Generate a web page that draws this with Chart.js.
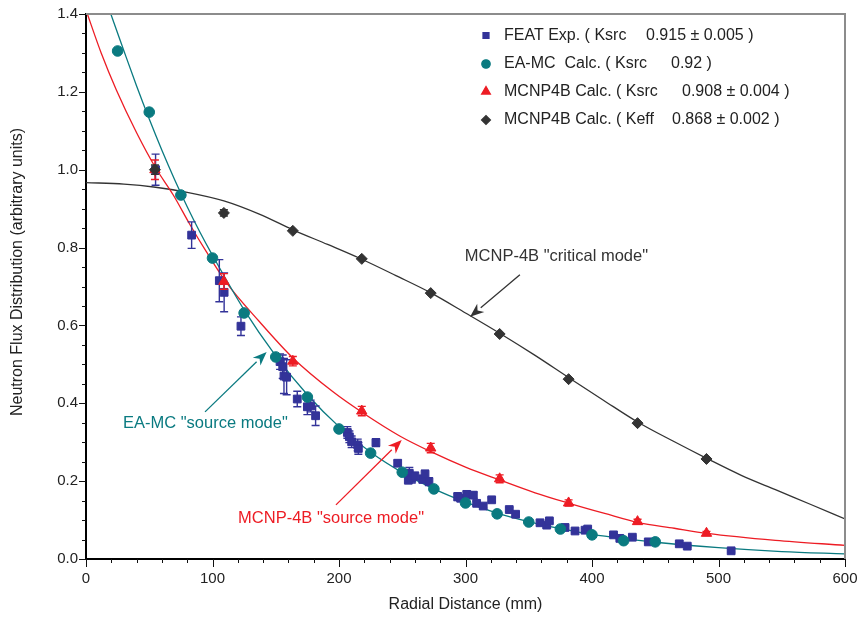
<!DOCTYPE html>
<html>
<head>
<meta charset="utf-8">
<script src="https://cdn.jsdelivr.net/npm/chart.js@4/dist/chart.umd.min.js"></script>
<style>
  html, body { margin: 0; padding: 0; background: #fff; }
  #wrap { width: 860px; height: 618px; }
</style>
</head>
<body>
<div id="wrap"><canvas id="flux" width="860" height="618"></canvas></div>
<script>
// FEAT measurements (radial distance in mm, normalised flux, error)
const featX = [55, 83.5, 105.4, 109.2, 122.5, 153.4, 155.5, 156.5, 158.6, 167, 175, 177.6, 181.5,
  206.6, 208.2, 210, 214.8, 215.3, 229.2, 246.4, 255.6, 257.5, 254.8, 260, 266.2, 268, 271.1,
  293.8, 296.2, 301, 306.2, 308.8, 314, 320.7, 334.6, 339.6, 358.9, 364.2, 366.3, 378.7, 386.6,
  394.5, 396.6, 417, 422, 431.9, 444.5, 469, 475.3, 510];
const featY = [1.00, 0.832, 0.715, 0.685, 0.598, 0.507, 0.494, 0.470, 0.467, 0.411, 0.391, 0.393, 0.368,
  0.325, 0.314, 0.301, 0.293, 0.284, 0.299, 0.246, 0.220, 0.207, 0.203, 0.213, 0.205, 0.218, 0.199,
  0.160, 0.156, 0.166, 0.164, 0.143, 0.136, 0.152, 0.127, 0.115, 0.093, 0.087, 0.098, 0.081, 0.072,
  0.074, 0.077, 0.062, 0.053, 0.056, 0.044, 0.039, 0.033, 0.021];
const featErr = [0.04, 0.034, 0.054, 0.05, 0.024, 0.02, 0.03, 0.045, 0.045, 0.02, 0.02, 0.015, 0.025,
  0.015, 0.015, 0.015, 0.015, 0.015, 0.01, 0.008, 0.015, 0.012, 0.01, 0.01, 0.01, 0.01, 0.01,
  0.01, 0.008, 0.008, 0.008, 0.005, 0.005, 0.005, 0.005, 0.005, 0.005, 0.005, 0.005, 0.004, 0.004,
  0.004, 0.004, 0.003, 0.003, 0.003, 0.003, 0.003, 0.003, 0.003];

// EA-MC calculation, source mode
const eamcX = [25, 50, 75, 100, 125, 150, 175, 200, 225, 250, 275, 300, 325, 350, 375, 400, 425, 450];
const eamcY = [1.305, 1.148, 0.935, 0.773, 0.632, 0.519, 0.416, 0.334, 0.272, 0.223, 0.180, 0.144,
  0.116, 0.095, 0.077, 0.062, 0.047, 0.044];

// MCNP4B, source mode and critical mode
const mcnpX = [54.5, 109, 163.5, 218, 272.5, 327, 381.5, 436, 490.5];
const srcY = [1.00, 0.713, 0.508, 0.380, 0.285, 0.206, 0.144, 0.096, 0.066];
const srcErr = [0.025, 0.02, 0.012, 0.012, 0.012, 0.01, 0.008, 0.006, 0.005];
const critY = [1.00, 0.889, 0.843, 0.771, 0.683, 0.578, 0.462, 0.349, 0.257];
const critErr = [0.012, 0.008, 0, 0, 0, 0, 0, 0, 0];

// fitted curves
const eamcFitX = [18, 30, 40, 50, 60, 70, 80, 90, 100, 125, 150, 175, 200, 225, 250, 275, 300,
  325, 350, 375, 400, 450, 500, 550, 600];
const eamcFitY = [1.415, 1.305, 1.215, 1.13, 1.05, 0.975, 0.905, 0.84, 0.78, 0.64, 0.522, 0.422, 0.34,
  0.274, 0.222, 0.18, 0.146, 0.118, 0.096, 0.078, 0.063, 0.043, 0.029, 0.019, 0.013];
const srcFitX = [0, 12, 24, 40, 55, 69, 82, 95, 111, 137, 164, 195, 219, 248, 273, 300, 327, 355,
  382, 410, 436, 465, 491, 545, 600];
const srcFitY = [1.41, 1.30, 1.205, 1.095, 1.005, 0.935, 0.86, 0.79, 0.71, 0.61, 0.515, 0.43, 0.375,
  0.316, 0.275, 0.236, 0.203, 0.17, 0.143, 0.117, 0.094, 0.079, 0.066, 0.048, 0.035];
const critFitX = [0, 30, 55, 80, 109, 137, 164, 191, 218, 245, 273, 300, 327, 355, 382, 409, 436,
  464, 491, 518, 545, 573, 600];
const critFitY = [0.967, 0.963, 0.955, 0.942, 0.92, 0.886, 0.845, 0.808, 0.77, 0.728, 0.683, 0.632,
  0.58, 0.523, 0.465, 0.408, 0.352, 0.303, 0.258, 0.215, 0.178, 0.14, 0.103];

// axis tick labels
const xLabels = [0, 100, 200, 300, 400, 500, 600];
const yLabels = [0.0, 0.2, 0.4, 0.6, 0.8, 1.0, 1.2, 1.4];

const legendNames = ['FEAT Exp. ( Ksrc', 'EA-MC  Calc. ( Ksrc', 'MCNP4B Calc. ( Ksrc', 'MCNP4B Calc. ( Keff'];
const legendValues = ['0.915 \u00b1 0.005 )', '0.92 )', '0.908 \u00b1 0.004 )', '0.868 \u00b1 0.002 )'];

const BLUE = '#333399', TEAL = '#0a7a80', RED = '#ed1c24', DARK = '#333333';
const FONT = '"Liberation Sans", Arial, Helvetica, sans-serif';

const pts = (xs, ys) => xs.map((x, i) => ({ x, y: ys[i] }));
const near = (v, list) => list.some(l => Math.abs(v - l) < 1e-6);

function curve(xs, ys, color, order) {
  return {
    data: pts(xs, ys), showLine: true, pointRadius: 0, borderColor: color,
    borderWidth: 1.3, cubicInterpolationMode: 'monotone', order
  };
}

function markers(xs, ys, style, radius, color, order, errs) {
  return {
    data: pts(xs, ys), pointStyle: style, pointRadius: radius, pointBackgroundColor: color,
    pointBorderColor: color, pointBorderWidth: 1, showLine: false, order, errorBars: errs
  };
}

const datasets = [
  markers(featX, featY, 'rect', 5.5, BLUE, 4, featErr),
  markers(eamcX, eamcY, 'circle', 5.3, TEAL, 3),
  markers(mcnpX, srcY, 'triangle', 6, RED, 2, srcErr),
  markers(mcnpX, critY, 'rectRot', 5.5, DARK, 1, critErr),
  curve(eamcFitX, eamcFitY, TEAL, 5),
  curve(srcFitX, srcFitY, RED, 6),
  curve(critFitX, critFitY, DARK, 7)
];

// arrows and labels, placed in data units
const notes = [
  { text: 'MCNP-4B "critical mode"', color: DARK, at: [299.5, 0.778], from: [343, 0.73], to: [303.6, 0.622] },
  { text: 'EA-MC "source mode"', color: TEAL, at: [29.2, 0.349], from: [94.1, 0.378], to: [142.8, 0.532] },
  { text: 'MCNP-4B "source mode"', color: RED, at: [120.2, 0.105], from: [197.6, 0.139], to: [249.6, 0.306] }
];

function arrow(ctx, x1, y1, x2, y2, color) {
  const a = Math.atan2(y2 - y1, x2 - x1), len = 14, half = 5.5;
  const bx = x2 - Math.cos(a) * len, by = y2 - Math.sin(a) * len;
  ctx.strokeStyle = color; ctx.fillStyle = color; ctx.lineWidth = 1.3;
  ctx.beginPath(); ctx.moveTo(x1, y1); ctx.lineTo(bx, by); ctx.stroke();
  ctx.beginPath();
  ctx.moveTo(x2, y2);
  ctx.lineTo(bx + Math.sin(a) * half, by - Math.cos(a) * half);
  ctx.lineTo(x2 - Math.cos(a) * len * 0.7, y2 - Math.sin(a) * len * 0.7);
  ctx.lineTo(bx - Math.sin(a) * half, by + Math.cos(a) * half);
  ctx.closePath(); ctx.fill();
}

const extras = {
  id: 'extras',
  beforeDatasetDraw(chart, args) {
    const ds = chart.data.datasets[args.index];
    if (!ds.errorBars) return;
    const { ctx, scales: { x, y } } = chart;
    ctx.save();
    ctx.strokeStyle = ds.pointBackgroundColor;
    ctx.lineWidth = 1.4;
    ds.data.forEach((p, i) => {
      const e = ds.errorBars[i];
      if (!e) return;
      const px = x.getPixelForValue(p.x);
      const t = y.getPixelForValue(p.y + e), b = y.getPixelForValue(p.y - e);
      ctx.beginPath();
      ctx.moveTo(px, t); ctx.lineTo(px, b);
      ctx.moveTo(px - 4, t); ctx.lineTo(px + 4, t);
      ctx.moveTo(px - 4, b); ctx.lineTo(px + 4, b);
      ctx.stroke();
    });
    ctx.restore();
  },
  afterDraw(chart) {
    const { ctx, chartArea: ca, scales: { x, y } } = chart;
    ctx.save();

    // grey frame on the top and right
    ctx.strokeStyle = '#8c8c8c'; ctx.lineWidth = 2;
    ctx.beginPath();
    ctx.moveTo(ca.left, ca.top); ctx.lineTo(ca.right, ca.top); ctx.lineTo(ca.right, ca.bottom);
    ctx.stroke();

    // major and minor ticks, outside the axes
    ctx.strokeStyle = '#111'; ctx.lineWidth = 1;
    ctx.beginPath();
    x.ticks.forEach(t => {
      const px = Math.round(x.getPixelForValue(t.value)) + 0.5;
      const len = near(t.value, xLabels) ? 8 : 4;
      ctx.moveTo(px, ca.bottom); ctx.lineTo(px, ca.bottom + len);
    });
    y.ticks.forEach(t => {
      const py = Math.round(y.getPixelForValue(t.value)) + 0.5;
      const len = near(t.value, yLabels) ? 7 : 4;
      ctx.moveTo(ca.left, py); ctx.lineTo(ca.left - len, py);
    });
    ctx.stroke();

    // axis titles
    ctx.fillStyle = '#222';
    ctx.font = '16px ' + FONT;
    ctx.textAlign = 'center'; ctx.textBaseline = 'middle';
    ctx.fillText('Radial Distance (mm)', (ca.left + ca.right) / 2, 605);
    ctx.save();
    ctx.translate(18, 272);
    ctx.rotate(-Math.PI / 2);
    ctx.fillText('Neutron Flux Distribution (arbitrary units)', 0, 0);
    ctx.restore();

    // notes with arrows
    ctx.font = '16.5px ' + FONT;
    ctx.textAlign = 'left';
    notes.forEach(n => {
      ctx.fillStyle = n.color;
      ctx.fillText(n.text, x.getPixelForValue(n.at[0]), y.getPixelForValue(n.at[1]));
      arrow(ctx, x.getPixelForValue(n.from[0]), y.getPixelForValue(n.from[1]),
        x.getPixelForValue(n.to[0]), y.getPixelForValue(n.to[1]), n.color);
    });

    // legend
    ctx.font = '16px ' + FONT;
    const rowY = [35.5, 64, 91.5, 120];
    const valueX = [646, 671, 682, 672];
    const legendSizes = [4.2, 4.2, 5, 4.4];
    legendNames.forEach((name, i) => {
      const ds = chart.data.datasets[i];
      ctx.fillStyle = ds.pointBackgroundColor;
      ctx.strokeStyle = ds.pointBackgroundColor;
      Chart.helpers.drawPoint(ctx, { pointStyle: ds.pointStyle, radius: legendSizes[i], borderWidth: 1, rotation: 0 }, 486, rowY[i]);
      ctx.fillStyle = '#222';
      ctx.fillText(name, 504, rowY[i]);
      ctx.fillText(legendValues[i], valueX[i], rowY[i]);
    });
    ctx.restore();
  }
};

new Chart(document.getElementById('flux'), {
  type: 'scatter',
  data: { datasets },
  options: {
    responsive: false,
    animation: false,
    layout: { padding: { top: 14, right: 15, left: 0, bottom: 0 } },
    plugins: { legend: { display: false }, tooltip: { enabled: false } },
    scales: {
      x: {
        type: 'linear', min: 0, max: 600,
        // fixed axis band; end labels may hang into the page margin
        afterFit: s => { s.height = 59; s.paddingLeft = 0; s.paddingRight = 0; },
        border: { display: true, color: '#000', width: 2 },
        grid: { display: false, drawTicks: false },
        ticks: {
          stepSize: 20, autoSkip: false, maxRotation: 0, padding: 11,
          color: '#222', font: { family: FONT, size: 15 },
          callback: v => near(v, xLabels) ? String(Math.round(v)) : ''
        }
      },
      y: {
        type: 'linear', min: 0, max: 1.4,
        afterFit: s => { s.width = 86; s.paddingTop = 0; s.paddingBottom = 0; },
        border: { display: true, color: '#000', width: 2 },
        grid: { display: false, drawTicks: false },
        ticks: {
          stepSize: 0.05, autoSkip: false, padding: 8,
          color: '#222', font: { family: FONT, size: 15 },
          callback: v => near(v, yLabels) ? v.toFixed(1) : ''
        }
      }
    }
  },
  plugins: [extras]
});
</script>
</body>
</html>
